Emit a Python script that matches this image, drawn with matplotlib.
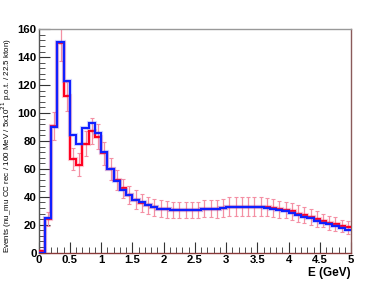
import matplotlib
matplotlib.use("Agg")

import matplotlib.pyplot as plt
from matplotlib.ticker import MultipleLocator
import numpy as np

# ── Data (100 MeV bins, 0-5 GeV) ─────────────────────────────────────────────
bin_edges = np.round(np.arange(0, 5.01, 0.1), 2)

blue_vals = [0, 25, 90, 151, 123, 84, 78, 89, 93, 86,
             72, 60, 51, 45, 41, 38, 36, 34, 33, 31.5,
             31, 30.5, 30.5, 30.5, 30.5, 30.5, 31, 31, 31.5, 32,
             32.5, 32.5, 32.5, 32.5, 32.5, 32.5, 32, 31.5, 30.5, 29.5,
             28.5, 27, 25.5, 24.5, 23, 21.5, 20.5, 19, 17.5, 16.5]

red_vals = [1, 24, 91, 150, 112, 67, 63, 78, 87, 83,
            71, 60, 52, 46, 41, 38, 35.5, 34, 32.5, 31.5,
            31, 30.5, 30.5, 30.5, 30.5, 30.5, 31.5, 31.5, 31.5, 32,
            33, 33, 33, 33, 33, 33, 32.5, 32, 31, 30.5,
            29.5, 28, 27, 25.5, 24, 23, 21.5, 20.5, 19, 18]

red_errs = [1, 5, 10, 13, 10.5, 8, 8, 9, 9.5, 9,
            8.5, 8, 7, 7, 6.5, 6.5, 6.5, 6, 6, 6,
            6, 6, 6, 6, 6, 6, 6, 6, 6.5, 6.5,
            6.5, 6.5, 6.5, 6.5, 6.5, 6.5, 6.5, 6.5, 6, 6,
            6, 6, 5.5, 5.5, 5.5, 5, 5, 5, 4.5, 4.5]

plt.rcParams.update({
    "font.family": ["Liberation Sans", "DejaVu Sans"],
})

fig = plt.figure(figsize=(3.91, 2.81), dpi=100)
ax = fig.add_axes([0.099, 0.101, 0.799, 0.795])

centers = (bin_edges[:-1] + bin_edges[1:]) / 2

# error bars (light pink with red caps)
eb = ax.errorbar(centers, red_vals, yerr=red_errs, fmt="none",
                 ecolor="#f490a4", elinewidth=0.9, capsize=1.5,
                 capthick=0.8, zorder=2)
for cap in eb[1]:
    cap.set_color("#e8304a")

# red histogram with soft halo
ax.stairs(red_vals, bin_edges, baseline=None, color="#ff3050",
          linewidth=3.0, alpha=0.25, zorder=3)
ax.stairs(red_vals, bin_edges, baseline=None, color="#ff0020",
          linewidth=1.5, zorder=4)

# blue histogram with soft halo
ax.stairs(blue_vals, bin_edges, baseline=None, color="#5060ff",
          linewidth=3.0, alpha=0.25, zorder=5)
ax.stairs(blue_vals, bin_edges, baseline=None, color="#1020ff",
          linewidth=1.5, zorder=6)

ax.set_xlim(0, 5)
ax.set_ylim(0, 160)

ax.xaxis.set_major_locator(MultipleLocator(0.5))
ax.xaxis.set_minor_locator(MultipleLocator(0.1))
ax.yaxis.set_major_locator(MultipleLocator(20))
ax.yaxis.set_minor_locator(MultipleLocator(4))
ax.xaxis.set_major_formatter(plt.FuncFormatter(lambda v, p: f"{v:g}"))

ax.tick_params(which="both", direction="in", top=False, right=False,
               color="#333333", labelsize=8.2)
ax.tick_params(which="major", length=8, width=0.8)
ax.tick_params(which="minor", length=4, width=0.6)
ax.tick_params(axis="x", pad=2)
ax.tick_params(axis="y", pad=1.5)
for lab in ax.get_xticklabels() + ax.get_yticklabels():
    lab.set_fontweight("bold")

ax.spines["bottom"].set_color("#8a3a3a")
ax.spines["left"].set_color("#555555")
ax.spines["right"].set_color("#8a5a5a")
ax.spines["top"].set_color("#999999")
for s in ax.spines.values():
    s.set_linewidth(1.0)

ax.set_xlabel("E (GeV)", fontsize=8.5, fontweight="bold", loc="right", labelpad=1)
ax.set_ylabel("Events (nu_mu CC rec / 100 MeV / 5x10$^{21}$ p.o.t. / 22.5 kton)",
              fontsize=5.8, loc="bottom")
ax.yaxis.set_label_coords(-0.078, 0.0)

plt.savefig("out.png", dpi=100)
plt.close()
